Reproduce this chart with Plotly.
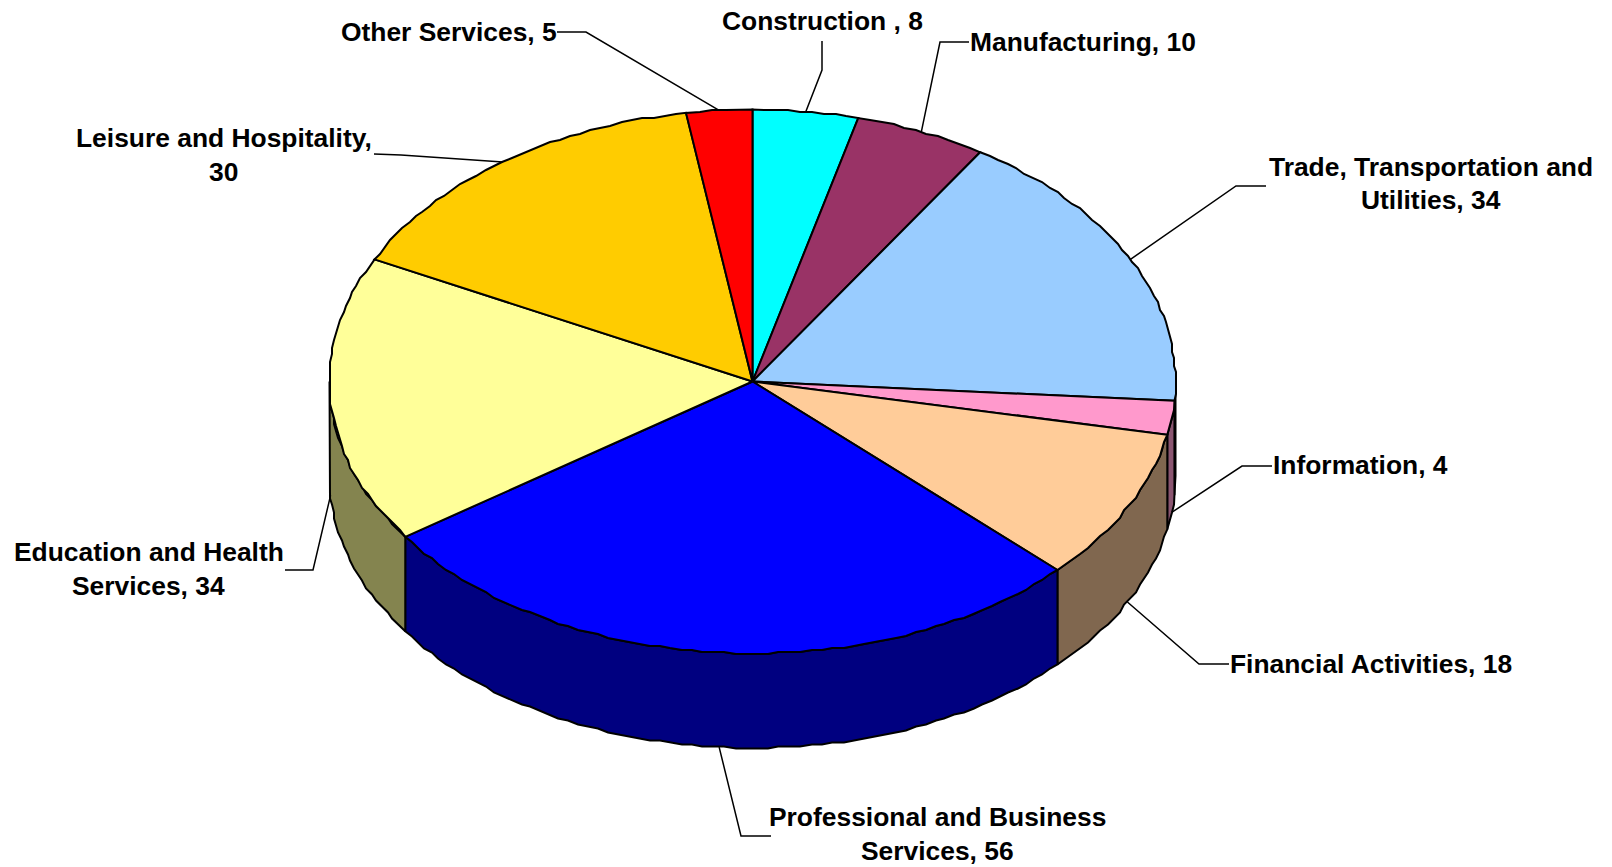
import numpy as np
import plotly.graph_objects as go

categories = ["Construction", "Manufacturing", "Trade, Transportation and Utilities",
              "Information", "Financial Activities", "Professional and Business Services",
              "Education and Health Services", "Leisure and Hospitality", "Other Services"]
values = [8, 10, 34, 4, 18, 56, 34, 30, 5]
top_colors = ["#00FFFF", "#993366", "#99CCFF", "#FF99CC", "#FFCC99", "#0000FF", "#FFFF99", "#FFCC00", "#FF0000"]
wall_colors = ["#008080", "#4D1933", "#4D6680", "#8A5570", "#80674F", "#000080", "#84844F", "#806600", "#800000"]
label_lines = [["Construction , {}"], ["Manufacturing, {}"],
               ["Trade, Transportation and", "Utilities, {}"], ["Information, {}"],
               ["Financial Activities, {}"], ["Professional and Business", "Services, {}"],
               ["Education and Health", "Services, {}"], ["Leisure and Hospitality,", "{}"],
               ["Other Services, {}"]]

# page-pixel layout of the labels: text centre x, first line y, line step, leader elbow, leader end
label_x = [822, 1082.5, 1431, 1360.5, 1371, 937.5, 148.5, 223.5, 449]
label_y = [20.5, 42, 166.5, 465, 664, 817, 552, 138, 32]
elbow = [(822, 70), (940, 42), (1236, 186), (1242, 466), (1199, 664), (741, 836), (313, 570), (401, 155), (586, 32)]
leader_end = [(822, 41), (969, 42), (1266, 186), (1272, 466), (1229, 664), (771, 836), (285, 570), (374, 154), (557, 32)]

CX, CY, RX, RY, DEPTH = 752.5, 381.5, 423.0, 272.0, 94.5
LINE = 2.0
STEP = 2.0       # the original's rim is a slightly stepped outline
FONT = dict(family="Liberation Sans, Arial, sans-serif", size=26.4, color="#000000")


def rim(t0, t1):
    n = max(2, int(abs(t1 - t0) / 0.025))
    t = np.linspace(t0, t1, n)
    x, y = CX + RX * np.sin(t), CY - RY * np.cos(t)
    if n > 4:
        x[1:-1] = np.round(x[1:-1] / STEP) * STEP
        y[1:-1] = np.round(y[1:-1] / STEP) * STEP
    return x, y


fig = go.Figure()
edges = np.cumsum([0] + values) / sum(values) * 2 * np.pi

# side walls: only the part of each slice's rim on the front half of the pie
for i in range(len(values)):
    t0, t1 = max(edges[i], np.pi / 2), min(edges[i + 1], 3 * np.pi / 2)
    if t1 <= t0:
        continue
    x, y = rim(t0, t1)
    fig.add_trace(go.Scatter(
        x=np.r_[x, x[::-1], x[0]], y=np.r_[y, y[::-1] + DEPTH, y[0]], mode="lines", fill="toself",
        fillcolor=wall_colors[i], line=dict(color="#000000", width=LINE), hoverinfo="skip", showlegend=False))

# top faces
for i, name in enumerate(categories):
    x, y = rim(edges[i], edges[i + 1])
    fig.add_trace(go.Scatter(
        x=np.r_[CX, x, CX], y=np.r_[CY, y, CY], mode="lines", fill="toself", name=name,
        fillcolor=top_colors[i], line=dict(color="#000000", width=LINE), hoverinfo="name", showlegend=False))

# leader lines anchored at each slice's mid-angle
for i in range(len(values)):
    t = (edges[i] + edges[i + 1]) / 2
    ax, ay = CX + RX * np.sin(t), CY - RY * np.cos(t)
    if np.cos(t) < 0:
        ay += DEPTH
    fig.add_trace(go.Scatter(
        x=[ax, elbow[i][0], leader_end[i][0]], y=[ay, elbow[i][1], leader_end[i][1]], mode="lines",
        line=dict(color="#000000", width=1.5), hoverinfo="skip", showlegend=False))

# labels
for i, lines in enumerate(label_lines):
    for k, line in enumerate(lines):
        fig.add_annotation(x=label_x[i], y=label_y[i] + 33.8 * k, text="<b>" + line.format(values[i]) + "</b>",
                           showarrow=False, xanchor="center", yanchor="middle", font=FONT)

fig.update_layout(
    width=1612, height=867, margin=dict(l=0, r=0, t=0, b=0),
    paper_bgcolor="#FFFFFF", plot_bgcolor="#FFFFFF",
    xaxis=dict(range=[0, 1612], visible=False, fixedrange=True),
    yaxis=dict(range=[867, 0], visible=False, fixedrange=True),
    showlegend=False)
fig.write_html("out.html", config=dict(displayModeBar=False),
               post_script="document.body.style.margin='0';document.body.style.overflow='hidden';")
